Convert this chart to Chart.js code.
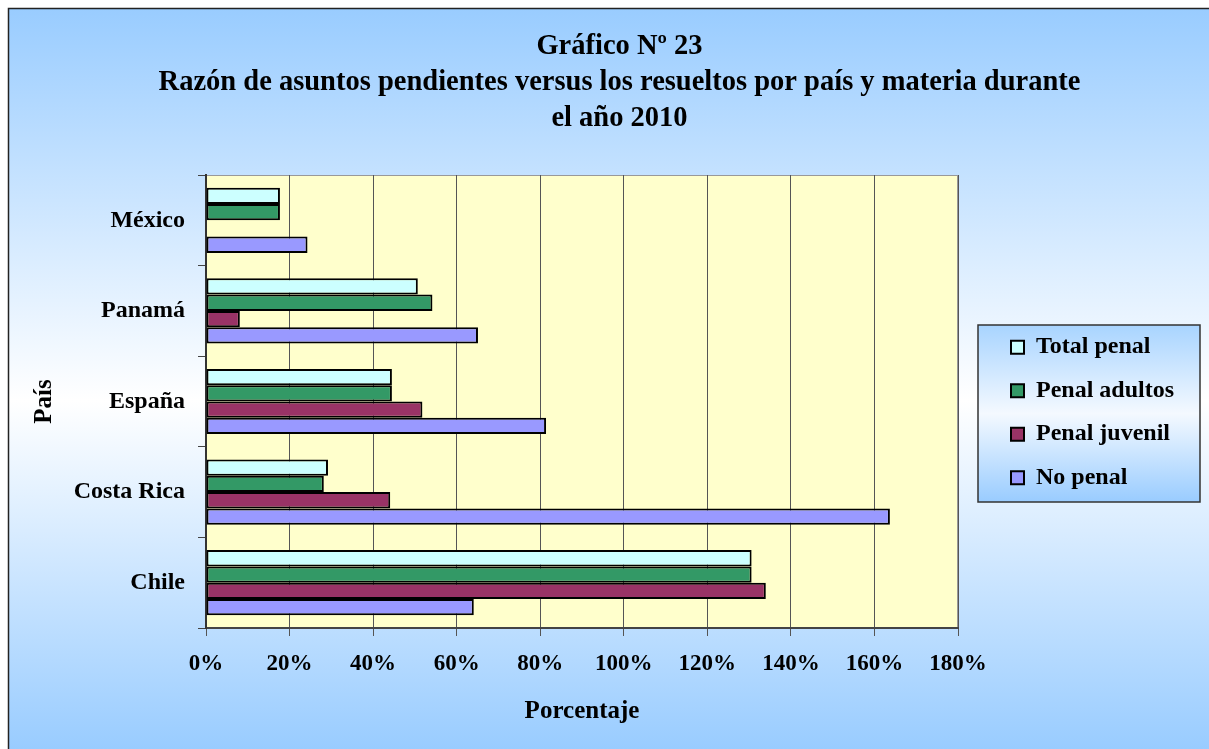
<!DOCTYPE html>
<html lang="es">
<head>
<meta charset="utf-8">
<title>Gráfico Nº 23</title>
<script src="https://cdn.jsdelivr.net/npm/chart.js@4.4.1/dist/chart.umd.min.js"></script>
<style>
  html, body { margin: 0; padding: 0; background: #fff; }
  #wrap { width: 1209px; height: 749px; position: relative; }
</style>
</head>
<body>
<div id="wrap"><canvas id="grafico"></canvas></div>
<script>
// --- datos (en %) ---
const paises = ['México', 'Panamá', 'España', 'Costa Rica', 'Chile'];
const series = ['Total penal', 'Penal adultos', 'Penal juvenil', 'No penal'];
const totalPenal   = [17.7, 50.7, 44.5, 29.2, 130.6];
const penalAdultos = [17.7, 54.2, 44.5, 28.2, 130.6];
const penalJuvenil = [null, 8.1, 51.8, 44.1, 134.0];
const noPenal      = [24.3, 65.1, 81.4, 163.7, 64.1];
const ticksPorcentaje = [0, 20, 40, 60, 80, 100, 120, 140, 160, 180];

const colores = ['#CCFFFF', '#339966', '#993366', '#9999FF'];
const fuente = "'Liberation Serif', 'Times New Roman', serif";

// caja de la leyenda (estilo Excel)
const cajaLeyenda = { x: 978, y: 325, w: 222, h: 177 };

// fondo degradado, marco, área de trazado y caja de la leyenda
const fondo = {
  id: 'fondo',
  beforeInit(chart) {
    const fitOrig = chart.legend.fit;
    chart.legend.fit = function () {
      fitOrig.call(this);
      this.width = 251;
    };
  },
  afterLayout(chart) {
    // colocar la leyenda dentro de su caja
    const lg = chart.legend;
    const pad = lg.options.labels.padding;
    const b = cajaLeyenda;
    const cy = b.y + b.h / 2 - 1;
    lg.left = b.x + 33 - pad;
    lg.right = b.x + b.w;
    lg.top = cy - 150;
    lg.bottom = cy + 150;
    lg.width = lg.right - lg.left;
    lg.height = lg.bottom - lg.top;
  },
  beforeDraw(chart) {
    const { ctx, width, height, chartArea: a } = chart;
    ctx.save();
    ctx.fillStyle = '#fff';
    ctx.fillRect(0, 0, width, height);

    const g = ctx.createLinearGradient(0, 8, 0, height);
    g.addColorStop(0, '#99CCFF');
    g.addColorStop(0.53, '#FFFFFF');
    g.addColorStop(1, '#99CCFF');
    ctx.fillStyle = g;
    ctx.fillRect(8, 8, width - 8, height - 8);
    ctx.strokeStyle = '#222';
    ctx.lineWidth = 1.5;
    ctx.beginPath();
    ctx.moveTo(8.5, height);
    ctx.lineTo(8.5, 8.5);
    ctx.lineTo(width, 8.5);
    ctx.stroke();

    // área de trazado
    ctx.fillStyle = '#FFFFCC';
    ctx.fillRect(a.left, a.top, a.width, a.height);
    ctx.strokeStyle = '#999';
    ctx.lineWidth = 1;
    ctx.strokeRect(a.left + 0.5, a.top + 0.5, a.width - 1, a.height - 1);

    // caja de la leyenda
    const b = cajaLeyenda;
    const g2 = ctx.createLinearGradient(0, b.y, 0, b.y + b.h);
    g2.addColorStop(0, '#A8D4FF');
    g2.addColorStop(0.5, '#F4F9FF');
    g2.addColorStop(1, '#99CCFF');
    ctx.fillStyle = g2;
    ctx.fillRect(b.x, b.y, b.w, b.h);
    ctx.strokeStyle = '#333';
    ctx.lineWidth = 1.5;
    ctx.strokeRect(b.x, b.y, b.w, b.h);
    ctx.restore();
  }
};

const datos = [totalPenal, penalAdultos, penalJuvenil, noPenal];

new Chart(document.getElementById('grafico'), {
  type: 'bar',
  data: {
    labels: paises,
    datasets: series.map((nombre, i) => ({
      label: nombre,
      data: datos[i],
      backgroundColor: colores[i],
      borderColor: '#000',
      borderWidth: 2,
      borderSkipped: false,
      categoryPercentage: 0.72,
      barPercentage: 1.0
    }))
  },
  options: {
    indexAxis: 'y',
    responsive: true,
    maintainAspectRatio: false,
    animation: false,
    layout: { padding: { left: 30, right: 0, top: 0, bottom: 0 } },
    plugins: {
      title: {
        display: true,
        text: ['Gráfico Nº 23',
               'Razón de asuntos pendientes versus los resueltos por país y materia durante',
               'el año 2010'],
        color: '#000',
        font: { family: fuente, size: 28.5, weight: 'bold', lineHeight: 36 / 28.5 },
        padding: { top: 29, bottom: 38 }
      },
      legend: {
        position: 'right',
        align: 'center',
        labels: {
          color: '#000',
          font: { family: fuente, size: 24, weight: 'bold' },
          boxWidth: 13,
          boxHeight: 13,
          padding: 19.5
        }
      },
      tooltip: { enabled: false }
    },
    scales: {
      x: {
        min: 0,
        max: 180,
        afterBuildTicks: s => { s.ticks = ticksPorcentaje.map(v => ({ value: v })); },
        afterFit: s => { s.height = 121; },
        ticks: {
          color: '#000',
          font: { family: fuente, size: 23, weight: 'bold' },
          padding: 14,
          callback: v => v + '%'
        },
        grid: { color: '#555', lineWidth: 1, tickLength: 8 },
        border: { color: '#444', width: 2 },
        title: {
          display: true,
          text: 'Porcentaje',
          color: '#000',
          font: { family: fuente, size: 25, weight: 'bold' },
          padding: { top: 0, bottom: 22 }
        }
      },
      y: {
        afterFit: s => { s.width = 176; },
        ticks: {
          color: '#000',
          font: { family: fuente, size: 24, weight: 'bold' },
          padding: 13
        },
        grid: { drawOnChartArea: false, color: '#444', tickLength: 8 },
        border: { color: '#333', width: 2 },
        title: {
          display: true,
          text: 'País',
          color: '#000',
          font: { family: fuente, size: 25, weight: 'bold' },
          padding: { top: 0, bottom: 0 }
        }
      }
    }
  },
  plugins: [fondo]
});
</script>
</body>
</html>
